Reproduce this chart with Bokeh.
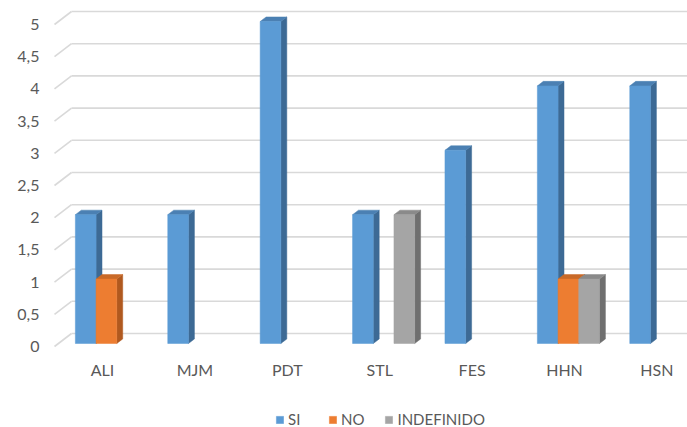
from bokeh.plotting import figure
from bokeh.models import Range1d, Legend, LegendItem
from bokeh.core.properties import value
from bokeh.embed import file_html
from bokeh.resources import INLINE

# ---- data ----
categories = ["ALI", "MJM", "PDT", "STL", "FES", "HHN", "HSN"]
series_names = ["SI", "NO", "INDEFINIDO"]
si = [2, 2, 5, 2, 3, 4, 4]
no = [1, 0, 0, 0, 0, 1, 0]
indefinido = [0, 0, 0, 2, 0, 1, 0]
y_ticks = [0, 0.5, 1, 1.5, 2, 2.5, 3, 3.5, 4, 4.5, 5]
y_tick_labels = ["0", "0,5", "1", "1,5", "2", "2,5", "3", "3,5", "4", "4,5", "5"]

# ---- styles ----
front_colors = ["#5B9BD5", "#ED7D31", "#A5A5A5"]
side_colors = ["#3D6A95", "#B0591F", "#6F6F6F"]
top_colors = ["#4B80B3", "#C96A28", "#8A8A8A"]
grid_color = "#D9D9D9"
text_color = "#595959"
FONT = "Lato"

W, H = 687, 427
px_x = 92.4   # px per category
px_y = 64.4   # px per value unit
x0 = -102 / px_x
y0 = -81 / px_y

p = figure(width=W, height=H, output_backend="svg", toolbar_location=None,
           x_range=Range1d(x0, x0 + W / px_x), y_range=Range1d(y0, y0 + H / px_y),
           min_border=0)
p.axis.visible = False
p.grid.visible = False
p.outline_line_color = None
p.background_fill_color = "white"
p.border_fill_color = "white"

# depth projection (full floor depth)
DX = 17 / px_x
DY = 13 / px_y
def proj(x, y, t):
    return x + t * DX, y + t * DY

# back wall gridlines and front diagonals
x_left = x0 + 54 / px_x
x_right = x0 + W / px_x + 0.5
gx0, gx1, gy0, gy1 = [], [], [], []
dx0, dy0, dx1, dy1 = [], [], [], []
for yv in y_ticks:
    a = proj(x_left, yv, 1.0)
    gx0.append(a[0]); gy0.append(a[1]); gx1.append(x_right); gy1.append(a[1])
    b = proj(x_left, yv, 0.0)
    dx0.append(b[0]); dy0.append(b[1]); dx1.append(a[0]); dy1.append(a[1])
p.segment(gx0, gy0, gx1, gy1, line_color=grid_color, line_width=1.6)
p.segment(dx0, dy0, dx1, dy1, line_color=grid_color, line_width=1.6)

# y tick labels
p.text(x=[x_left] * len(y_ticks), y=y_ticks, text=y_tick_labels,
       text_align="right", text_baseline="middle", x_offset=-15,
       text_font=value(FONT), text_font_size="16px", text_color=text_color)

# x labels
p.text(x=list(range(len(categories))), y=[0] * len(categories), text=categories,
       text_align="center", text_baseline="middle", y_offset=23,
       text_font=value(FONT), text_font_size="16px", text_color=text_color)

# bars
bw = 0.224
tf, tb = 0.23, 0.58
series = [si, no, indefinido]
front_renderers = []
for j, vals in enumerate(series):
    L, R, B, T = [], [], [], []
    sx, sy, tx, ty = [], [], [], []
    for i, v in enumerate(vals):
        if v <= 0:
            continue
        xl = i + (j - 1) * bw - bw / 2
        xr = xl + bw
        fl = proj(xl, 0, tf); fr = proj(xr, v, tf)
        L.append(fl[0]); R.append(fr[0]); B.append(fl[1]); T.append(fr[1])
        p1 = proj(xr, 0, tf); p2 = proj(xr, 0, tb); p3 = proj(xr, v, tb); p4 = proj(xr, v, tf)
        sx.append([p1[0], p2[0], p3[0], p4[0]]); sy.append([p1[1], p2[1], p3[1], p4[1]])
        q1 = proj(xl, v, tf); q2 = proj(xr, v, tf); q3 = proj(xr, v, tb); q4 = proj(xl, v, tb)
        tx.append([q1[0], q2[0], q3[0], q4[0]]); ty.append([q1[1], q2[1], q3[1], q4[1]])
    p.patches(sx, sy, fill_color=side_colors[j], line_color=side_colors[j], line_width=0.5)
    p.patches(tx, ty, fill_color=top_colors[j], line_color=top_colors[j], line_width=0.5)
    r = p.quad(left=L, right=R, bottom=B, top=T, fill_color=front_colors[j],
               line_color=front_colors[j], line_width=0.5)
    front_renderers.append(r)

legend = Legend(items=[LegendItem(label=n, renderers=[r]) for n, r in zip(series_names, front_renderers)],
                orientation="horizontal", location=(275, -1),
                glyph_width=9, glyph_height=9, label_standoff=4, spacing=20,
                label_height=12, padding=0, margin=0,
                label_text_font=FONT, label_text_font_size="15px", label_text_color=text_color,
                border_line_color=None, background_fill_alpha=0)
p.add_layout(legend)

open("out.html", "w").write(file_html(p, INLINE))
